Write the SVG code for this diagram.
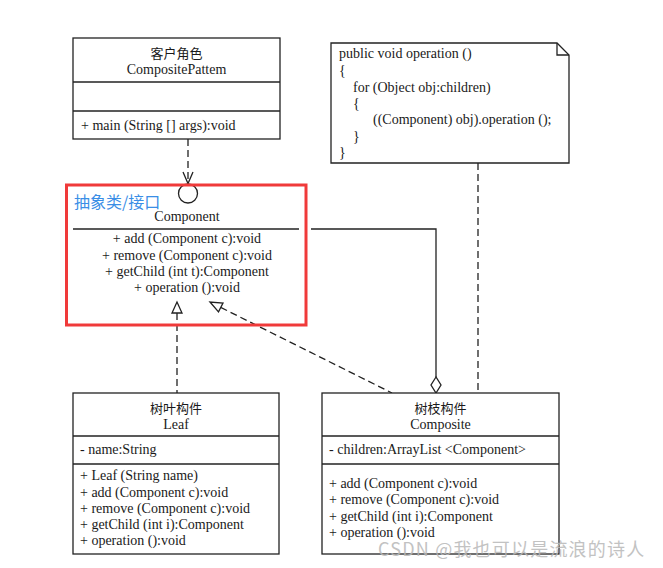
<svg xmlns="http://www.w3.org/2000/svg" width="663" height="568" viewBox="0 0 663 568">
<style>
.box{fill:#fff;stroke:#222;stroke-width:1.3}
.ln{fill:none;stroke:#222;stroke-width:1.3}
.dash{fill:none;stroke:#222;stroke-width:1.3;stroke-dasharray:7 4}
.t{font-family:"Liberation Serif","Noto Sans CJK SC",serif;font-size:14px;fill:#1a1a1a}
.cn{font-family:"Noto Sans CJK SC",sans-serif;font-size:13px;fill:#1a1a1a}
.c{text-anchor:middle}
</style>
<rect width="663" height="568" fill="#fff"/>
<g id="connectors">
  <line class="dash" x1="188" y1="139" x2="188" y2="183"/>
  <polyline class="ln" points="183,172 188,183.5 193,172"/>
  <line class="dash" x1="177" y1="313" x2="177" y2="393"/>
  <polygon class="box" points="177,302 172,313 182,313"/>
  <line class="dash" x1="220.7" y1="307.4" x2="392" y2="393"/>
  <polygon class="box" points="210,302 218.5,311.9 223,303"/>
  <polyline class="ln" points="311,229 436,229 436,377"/>
  <polygon class="box" points="436,377 431,385 436,393 441,385"/>
  <line class="dash" x1="478" y1="163" x2="478" y2="393"/>
</g>
<g id="client">
  <rect class="box" x="73" y="38" width="207" height="101"/>
  <line class="ln" x1="73" y1="82" x2="280" y2="82"/>
  <line class="ln" x1="73" y1="111" x2="280" y2="111"/>
  <text class="cn c" x="176.5" y="58">客户角色</text>
  <text class="t c" x="176.5" y="74">CompositePattem</text>
  <text class="t" x="81" y="130">+ main (String [] args):void</text>
</g>
<g id="component">
  <circle cx="188" cy="193.5" r="9.5" fill="#fff" stroke="#222" stroke-width="1.3"/>
  <line class="ln" x1="73" y1="229" x2="299" y2="229" stroke-width="1.6"/>
  <text class="t c" x="187" y="221">Component</text>
  <text class="t c" x="187" y="243">+ add (Component c):void</text>
  <text class="t c" x="187" y="259.5">+ remove (Component c):void</text>
  <text class="t c" x="187" y="276">+ getChild (int t):Component</text>
  <text class="t c" x="187" y="292">+ operation ():void</text>
  <rect x="66.5" y="185" width="239.5" height="140" fill="none" stroke="#f03a3a" stroke-width="3"/>
  <text x="74" y="208" font-family="Noto Sans CJK SC,sans-serif" font-size="16" fill="#3a8ee6">抽象类/接口</text>
</g>
<g id="note">
  <polygon class="box" points="331,43 557,43 569,55 569,163 331,163"/>
  <polyline class="ln" points="557,43 557,55 569,55"/>
  <text class="t" x="339" y="58">public void operation ()</text>
  <text class="t" x="339" y="75">{</text>
  <text class="t" x="353" y="91.5">for (Object obj:children)</text>
  <text class="t" x="353" y="108">{</text>
  <text class="t" x="373" y="124">((Component) obj).operation ();</text>
  <text class="t" x="353" y="141">}</text>
  <text class="t" x="339" y="157">}</text>
</g>
<g id="leaf">
  <rect class="box" x="73" y="393" width="206" height="161"/>
  <line class="ln" x1="73" y1="436" x2="279" y2="436"/>
  <line class="ln" x1="73" y1="464" x2="279" y2="464"/>
  <text class="cn c" x="176" y="413">树叶构件</text>
  <text class="t c" x="176" y="429">Leaf</text>
  <text class="t" x="80" y="454">- name:String</text>
  <text class="t" x="80" y="480">+ Leaf (String name)</text>
  <text class="t" x="80" y="496.5">+ add (Component c):void</text>
  <text class="t" x="80" y="513">+ remove (Component c):void</text>
  <text class="t" x="80" y="529">+ getChild (int i):Component</text>
  <text class="t" x="80" y="545">+ operation ():void</text>
</g>
<g id="composite">
  <rect class="box" x="322" y="393" width="237" height="161"/>
  <line class="ln" x1="322" y1="436" x2="559" y2="436"/>
  <line class="ln" x1="322" y1="464" x2="559" y2="464"/>
  <text class="cn c" x="440.5" y="413">树枝构件</text>
  <text class="t c" x="440.5" y="429">Composite</text>
  <text class="t" x="329" y="454">- children:ArrayList &lt;Component&gt;</text>
  <text class="t" x="329" y="488">+ add (Component c):void</text>
  <text class="t" x="329" y="504">+ remove (Component c):void</text>
  <text class="t" x="329" y="521">+ getChild (int i):Component</text>
  <text class="t" x="329" y="537">+ operation ():void</text>
</g>
<text x="378" y="556" font-family="Noto Sans CJK SC,sans-serif" font-size="18" letter-spacing="1.2" fill="#b8b8b8" opacity="0.85">CSDN @我也可以是流浪的诗人</text>
</svg>
